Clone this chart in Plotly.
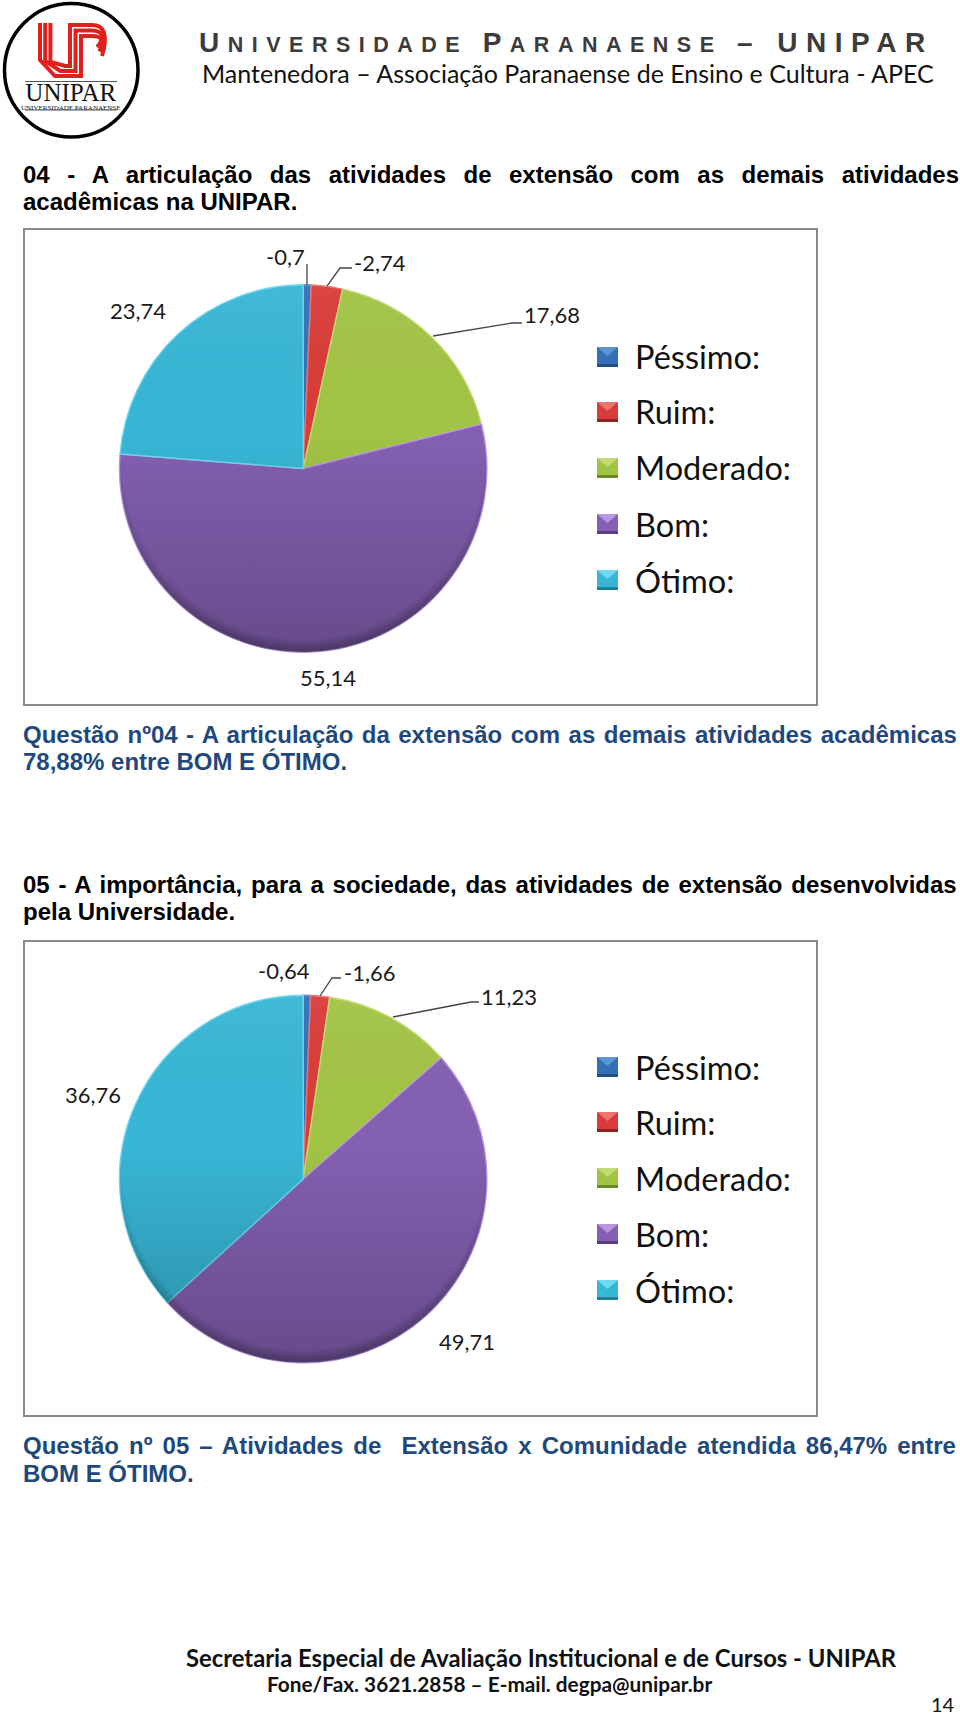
import plotly.graph_objects as go
import base64

W, H = 960, 1716

categories = ["Péssimo:", "Ruim:", "Moderado:", "Bom:", "Ótimo:"]
values_q04 = [0.7, 2.74, 17.68, 55.14, 23.74]
values_q05 = [0.64, 1.66, 11.23, 49.71, 36.76]
labels_q04 = ["-0,7", "-2,74", "17,68", "55,14", "23,74"]
labels_q05 = ["-0,64", "-1,66", "11,23", "49,71", "36,76"]
colors = ["#3470B8", "#D93C38", "#A2C445", "#8460B2", "#38B6D6"]
rims = ["#5E93D2", "#E87570", "#C4DC78", "#B896E4", "#70D8F0"]
darks = ["#24507F", "#8E2422", "#6A8A28", "#5A3F80", "#1F7F98"]

FONT_SANS = "Liberation Sans"
FONT_UI = "Lato"
CX, R = 303.2, 183.7


def px(x):
    return x / W


def py(y):
    return 1 - y / H


def pie(values, cx, cy, r, name):
    return go.Pie(
        labels=categories,
        values=values,
        name=name,
        sort=False,
        direction="clockwise",
        rotation=0,
        textinfo="none",
        hoverinfo="label+value",
        showlegend=False,
        marker=dict(colors=colors, line=dict(color=rims, width=1.4)),
        domain=dict(x=[px(cx - r), px(cx + r)], y=[py(cy + r), py(cy - r)]),
    )


shapes, annotations, images = [], [], []


def text(x, y, s, size, color="#000000", family=FONT_SANS, anchor="left", bold=False, ws=None):
    if ws is not None:
        s = f'<span style="word-spacing:{ws}px">{s}</span>'
    annotations.append(dict(
        x=px(x), y=py(y), xref="paper", yref="paper", text=f"<b>{s}</b>" if bold else s,
        showarrow=False, xanchor=anchor, yanchor="middle", borderpad=0, borderwidth=0,
        font=dict(size=size, color=color, family=family),
    ))


def line(points, color="#444444", width=1.3):
    d = "M" + " L".join(f"{px(x):.5f},{py(y):.5f}" for x, y in points)
    shapes.append(dict(type="path", path=d, xref="paper", yref="paper",
                       line=dict(color=color, width=width)))


def poly(points, fill):
    d = "M" + " L".join(f"{px(x):.5f},{py(y):.5f}" for x, y in points) + " Z"
    shapes.append(dict(type="path", path=d, xref="paper", yref="paper",
                       fillcolor=fill, line=dict(width=0)))


def box(x0, y0, x1, y1):
    shapes.append(dict(type="rect", xref="paper", yref="paper", x0=px(x0), x1=px(x1),
                       y0=py(y1), y1=py(y0), line=dict(color="#8A8A8A", width=2)))


def legend(ys):
    for cat, c, rim, dk, y in zip(categories, colors, rims, darks, ys):
        poly([(597, y - 10), (618, y - 10), (618, y + 10), (597, y + 10)], c)
        poly([(597, y - 10), (618, y - 10), (607.5, y - 1)], rim)
        poly([(597, y + 7), (618, y + 7), (618, y + 10), (597, y + 10)], dk)
        text(635, y, cat, 32.5, "#111111", FONT_UI)


def shade(cx, cy, r):
    svg = (
        '<svg xmlns="http://www.w3.org/2000/svg" width="400" height="400">'
        '<defs><linearGradient id="g" x1="0" y1="0" x2="0" y2="1">'
        '<stop offset="0" stop-color="#fff" stop-opacity="0.05"/>'
        '<stop offset="0.4" stop-color="#000" stop-opacity="0.0"/>'
        '<stop offset="1" stop-color="#000" stop-opacity="0.22"/>'
        '</linearGradient>'
        '<radialGradient id="e" cx="0.5" cy="0.47" r="0.53">'
        '<stop offset="0.93" stop-color="#000" stop-opacity="0"/>'
        '<stop offset="1" stop-color="#000" stop-opacity="0.30"/>'
        '</radialGradient></defs>'
        '<circle cx="200" cy="200" r="200" fill="url(#g)"/>'
        '<circle cx="200" cy="200" r="200" fill="url(#e)"/></svg>'
    )
    uri = "data:image/svg+xml;base64," + base64.b64encode(svg.encode()).decode()
    images.append(dict(source=uri, xref="paper", yref="paper", x=px(cx - r), y=py(cy - r),
                       sizex=2 * r / W, sizey=2 * r / H, sizing="stretch",
                       xanchor="left", yanchor="top", layer="above"))


# ---- logo ----
shapes.append(dict(type="circle", xref="paper", yref="paper", x0=px(4.5), x1=px(138),
                   y0=py(137), y1=py(3.5), line=dict(color="#000000", width=3.5)))
for i in range(3):
    xl, yb = 40 + 5.2 * i, 76 - 5 * i
    xr, yt = 81 - 5.5 * i, 36 - 5.5 * i
    ex, ey = 97 + 2.5 * i, 47 + 4.5 * i
    cx1 = 107 + 2 * i
    d = (f"M{px(xl):.5f},{py(23):.5f} L{px(xl):.5f},{py(60 + i):.5f} "
         f"L{px(xl + 15):.5f},{py(yb):.5f} L{px(xr):.5f},{py(yb):.5f} "
         f"L{px(xr):.5f},{py(yt):.5f} L{px(92):.5f},{py(yt):.5f} "
         f"Q{px(cx1):.5f},{py(yt):.5f} {px(ex):.5f},{py(ey):.5f}")
    shapes.append(dict(type="path", path=d, xref="paper", yref="paper",
                       line=dict(color="#E0201C", width=4)))
line([(25, 81.5), (117, 81.5)], "#555555", 1.2)
line([(25, 110), (117, 110)], "#555555", 1.2)
text(71, 96, '<span style="font-size:25px">UNIPAR</span><br>UNIVERSIDADE PARANAENSE', 7, "#111111",
     "Liberation Serif", "center")

# ---- header ----
LS = "letter-spacing:8.5px"
text(199, 42,
     f'<span style="{LS}">U</span><span style="font-size:21.5px;{LS}">NIVERSIDADE </span>'
     f'<span style="{LS}">P</span><span style="font-size:21.5px;{LS}">ARANAENSE </span>'
     f'<span style="{LS}">– UNIPAR</span>',
     28, "#3C3C3C", FONT_SANS, bold=True)
text(202, 73, "Mantenedora – Associação Paranaense de Ensino e Cultura - APEC", 25, "#111111", FONT_UI)

NAVY = "#1F497D"
BODY = 24
text(23, 175, "04 - A articulação das atividades de extensão com as demais atividades", BODY, bold=True, ws=10.8)
text(23, 202, "acadêmicas na UNIPAR.", BODY, bold=True)

text(23, 734, "Questão nº04 - A articulação da extensão com as demais atividades acadêmicas", BODY, NAVY, bold=True, ws=1.8)
text(23, 761, "78,88% entre BOM E ÓTIMO.", BODY, NAVY, bold=True)

text(23, 884, "05 - A importância, para a sociedade, das atividades de extensão desenvolvidas", BODY, bold=True, ws=2.1)
text(23, 911, "pela Universidade.", BODY, bold=True)

text(23, 1445, "Questão nº 05 – Atividades de  Extensão x Comunidade atendida 86,47% entre", BODY, NAVY, bold=True, ws=3.4)
text(23, 1473, "BOM E ÓTIMO.", BODY, NAVY, bold=True)

text(541, 1658, "Secretaria Especial de Avaliação Institucional e de Cursos - UNIPAR", 23.8, "#111111", FONT_UI, "center", True)
text(490, 1683, "Fone/Fax. 3621.2858 – E-mail. degpa@unipar.br", 20.8, "#111111", FONT_UI, "center", True)
text(955, 1704, "14", 20, "#111111", FONT_UI, "right")

# ---- chart 1 ----
box(24, 229, 817, 705)
shade(CX, 468.5, R)
legend([357, 412, 468, 524, 580])
LABEL = 22
for s, x, y in zip(labels_q04, [285, 380, 552, 328, 137.6], [257, 262, 315, 677, 310]):
    text(x, y, s, LABEL, "#1A1A1A", FONT_UI, "center")
line([(307, 264), (307, 285)])
line([(327, 286), (340, 268), (352, 268)])
line([(433, 336), (512, 323), (522, 323)])

# ---- chart 2 ----
box(24, 941, 817, 1416)
shade(CX, 1179, R)
legend([1067, 1122, 1178, 1234, 1290])
for s, x, y in zip(labels_q05, [284, 369, 509, 467, 92.6], [970, 972, 996, 1341, 1094]):
    text(x, y, s, LABEL, "#1A1A1A", FONT_UI, "center")
line([(320, 996), (332, 978), (341, 978)])
line([(393, 1017), (471, 1002), (479, 1002)])

fig = go.Figure([pie(values_q04, CX, 468.5, R, "Questão 04"),
                 pie(values_q05, CX, 1179, R, "Questão 05")])
fig.update_layout(
    width=W, height=H, margin=dict(l=0, r=0, t=0, b=0, pad=0),
    paper_bgcolor="white", plot_bgcolor="white",
    shapes=shapes, annotations=annotations, images=images,
)
fig.write_html("out.html", config=dict(displayModeBar=False),
               post_script="document.body.style.margin='0';document.documentElement.style.overflow='hidden';")
